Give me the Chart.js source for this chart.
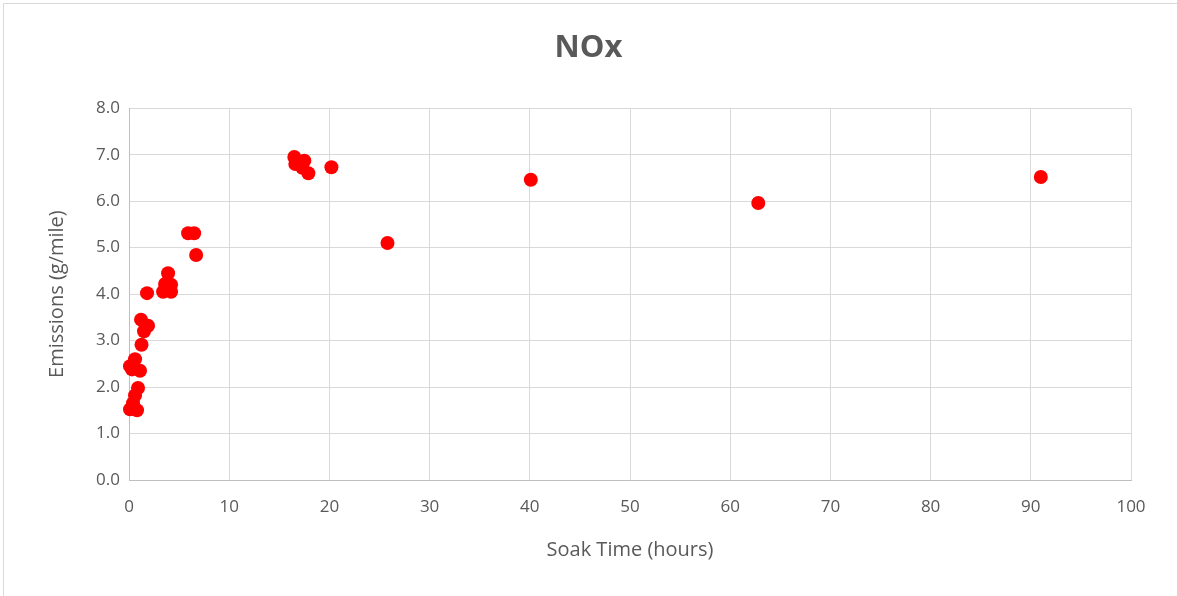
<!DOCTYPE html>
<html>
<head>
<meta charset="utf-8">
<title>NOx</title>
<script src="https://cdn.jsdelivr.net/npm/chart.js@4/dist/chart.umd.min.js"></script>
<style>
  html, body { margin: 0; padding: 0; background: #ffffff; }
  #wrap { position: relative; width: 1177px; height: 596px; }
</style>
</head>
<body>
<div id="wrap">
  <canvas id="noxChart" width="1177" height="596"></canvas>
</div>
<script>
// soak time (hours) and NOx emissions (g/mile)
const soakHours = [
    0.1, 0.4, 0.6, 0.9, 0.8, 0.1, 0.6, 1.1, 0.3, 1.25,
    1.2, 1.9, 1.5, 1.8, 3.4, 4.2, 3.6, 4.2, 3.9, 5.9,
    6.5, 6.7, 16.5, 16.6, 17.5, 17.3, 17.9, 20.2, 25.8, 40.1,
    62.8, 91.0
];
const noxEmissions = [
    1.52, 1.65, 1.82, 1.98, 1.50, 2.45, 2.60, 2.35, 2.38, 2.91,
    3.45, 3.32, 3.20, 4.02, 4.05, 4.05, 4.22, 4.20, 4.45, 5.31,
    5.31, 4.84, 6.95, 6.80, 6.87, 6.72, 6.60, 6.73, 5.10, 6.46,
    5.96, 6.52
];
const xTicks = [0, 10, 20, 30, 40, 50, 60, 70, 80, 90, 100];
const yTicks = [0, 1, 2, 3, 4, 5, 6, 7, 8];

const points = soakHours.map((x, i) => ({ x: x, y: noxEmissions[i] }));

const textGrey = '#595959';
const fontFamily = "'Open Sans', 'Noto Sans', sans-serif";

// white page and the thin frame at the top/left edge
const framePlugin = {
    id: 'frame',
    beforeDraw(chart) {
        const ctx = chart.ctx;
        ctx.save();
        ctx.fillStyle = '#ffffff';
        ctx.fillRect(0, 0, chart.width, chart.height);
        ctx.strokeStyle = '#d9d9d9';
        ctx.lineWidth = 1;
        ctx.beginPath();
        ctx.moveTo(3.5, chart.height);
        ctx.lineTo(3.5, 3.5);
        ctx.lineTo(chart.width, 3.5);
        ctx.stroke();
        ctx.restore();
    }
};

const config = {
    type: 'scatter',
    data: {
        datasets: [{
            label: 'NOx',
            data: points,
            backgroundColor: '#ff0000',
            borderColor: '#ff0000',
            borderWidth: 0,
            pointRadius: 7,
            pointHoverRadius: 7,
            clip: false
        }]
    },
    options: {
        responsive: false,
        animation: false,
        layout: {
            padding: 0
        },
        plugins: {
            legend: { display: false },
            tooltip: { enabled: false },
            title: {
                display: true,
                text: 'NOx',
                color: textGrey,
                font: { family: fontFamily, size: 31, weight: 'bold' },
                padding: { top: 30, bottom: 41 }
            }
        },
        scales: {
            x: {
                type: 'linear',
                min: 0,
                max: 100,
                afterBuildTicks(scale) {
                    scale.ticks = xTicks.map(v => ({ value: v }));
                },
                afterFit(scale) {
                    scale.height = 116;
                },
                ticks: {
                    color: textGrey,
                    font: { family: fontFamily, size: 17 },
                    padding: 17,
                    maxRotation: 0
                },
                grid: { color: '#d9d9d9', drawTicks: false },
                border: { color: '#bfbfbf' },
                title: {
                    display: true,
                    text: 'Soak Time (hours)',
                    color: textGrey,
                    font: { family: fontFamily, size: 20 },
                    padding: { top: 0, bottom: 34 }
                }
            },
            y: {
                type: 'linear',
                min: 0,
                max: 8,
                afterBuildTicks(scale) {
                    scale.ticks = yTicks.map(v => ({ value: v }));
                },
                afterFit(scale) {
                    scale.width = 129;
                },
                ticks: {
                    color: textGrey,
                    font: { family: fontFamily, size: 17 },
                    padding: 9,
                    callback: v => Number(v).toFixed(1)
                },
                grid: { color: '#d9d9d9', drawTicks: false },
                border: { color: '#bfbfbf' },
                title: {
                    display: true,
                    text: 'Emissions (g/mile)',
                    color: textGrey,
                    font: { family: fontFamily, size: 20 },
                    padding: { top: 45, bottom: 0 }
                }
            },
            // empty right-hand spacer so the plot ends at 100 while the title stays centred on the page
            spacer: {
                type: 'linear',
                position: 'right',
                display: true,
                grid: { display: false, drawTicks: false },
                border: { display: false },
                ticks: { display: false },
                afterFit(scale) {
                    scale.width = 46;
                }
            }
        }
    },
    plugins: [framePlugin]
};

const noxChart = new Chart(document.getElementById('noxChart'), config);
</script>
</body>
</html>
